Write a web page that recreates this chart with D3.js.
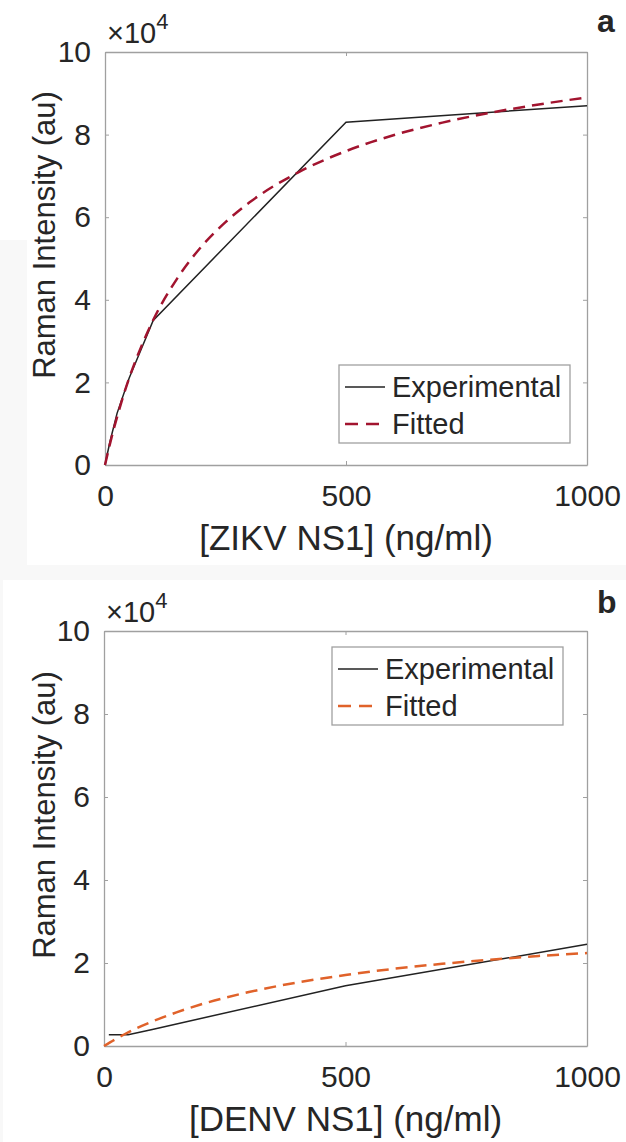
<!DOCTYPE html>
<html>
<head>
<meta charset="utf-8">
<script src="https://cdn.jsdelivr.net/npm/d3@7"></script>
<style>
  body { margin: 0; background: #f8f8f8; }
  svg { display: block; }
  text { font-family: "Liberation Sans", Arial, Helvetica, sans-serif; fill: #262626; }
</style>
</head>
<body>
<script>
// panel a: ZIKV NS1
var concA = [0, 10, 25, 50, 100, 500, 1000];
var expA = [0, 5500, 12500, 21000, 35000, 83000, 87000];
var fitXA = [0, 10, 25, 50, 75, 100, 150, 200, 250, 300, 400, 500, 600, 700, 800, 900, 1000];
var fitA = [0, 5000, 11600, 21000, 28600, 35100, 45200, 52900, 58800, 63600, 70800, 76000, 79900, 82900, 85300, 87300, 89000];

// panel b: DENV NS1
var concB = [10, 50, 100, 500, 1000];
var expB = [2700, 2700, 4000, 14500, 24500];
var fitXB = [0, 25, 50, 100, 150, 200, 300, 400, 500, 600, 700, 800, 900, 1000];
var fitB = [0, 1700, 3300, 5900, 8100, 10000, 13000, 15300, 17100, 18600, 19800, 20800, 21700, 22400];

var xTicks = [0, 500, 1000];
var yTicks = [0, 20000, 40000, 60000, 80000, 100000];
var seriesNames = ["Experimental", "Fitted"];

var W = 626, H = 1142;
var svg = d3.select("body").append("svg")
    .attr("width", W)
    .attr("height", H);

// faint grey page with white panel cut-outs
svg.append("rect").attr("x", 0).attr("y", 0).attr("width", W).attr("height", H).attr("fill", "#f8f8f8");
svg.append("rect").attr("x", 27).attr("y", 0).attr("width", W - 27).attr("height", 565).attr("fill", "#fff");
svg.append("rect").attr("x", 0).attr("y", 0).attr("width", 27).attr("height", 240).attr("fill", "#fff");
svg.append("rect").attr("x", 3).attr("y", 580).attr("width", W - 3).attr("height", H - 580).attr("fill", "#fff");

function drawPanel(p) {
    var x = d3.scaleLinear().domain([0, 1000]).range([p.left, p.right]);
    var y = d3.scaleLinear().domain([0, 100000]).range([p.bottom, p.top]);
    var g = svg.append("g");

    var fmtY = function(d) { return d / 10000; };

    // axes, ticks point inward
    var axB = g.append("g").attr("transform", "translate(0," + p.bottom + ")")
        .call(d3.axisBottom(x).tickValues(xTicks).tickFormat(d3.format("d")).tickSizeInner(-4).tickSizeOuter(0).tickPadding(20));
    var axT = g.append("g").attr("transform", "translate(0," + p.top + ")")
        .call(d3.axisTop(x).tickValues(xTicks).tickSizeInner(-4).tickSizeOuter(0).tickFormat(""));
    var axL = g.append("g").attr("transform", "translate(" + p.left + ",0)")
        .call(d3.axisLeft(y).tickValues(yTicks).tickFormat(fmtY).tickSizeInner(-4).tickSizeOuter(0).tickPadding(14));
    var axR = g.append("g").attr("transform", "translate(" + p.right + ",0)")
        .call(d3.axisRight(y).tickValues(yTicks).tickSizeInner(-4).tickSizeOuter(0).tickFormat(""));

    [axB, axT, axL, axR].forEach(function(a) {
        a.select(".domain").attr("stroke", "#a0a0a0").attr("stroke-width", 1.3);
        a.selectAll(".tick line").attr("stroke", "#a0a0a0");
        a.selectAll(".tick text").style("font-size", "30px").attr("fill", "#262626");
    });

    // exponent label
    var ex = g.append("text").attr("x", p.left + 2).attr("y", p.top - 9).style("font-size", "29px");
    ex.append("tspan").text("\u00d710");
    ex.append("tspan").attr("dy", -14).style("font-size", "22px").text("4");

    // data lines
    var line = d3.line()
        .x(function(d) { return x(d[0]); })
        .y(function(d) { return y(d[1]); });
    var curve = d3.line()
        .curve(d3.curveMonotoneX)
        .x(function(d) { return x(d[0]); })
        .y(function(d) { return y(d[1]); });

    g.append("path")
        .datum(d3.zip(p.expX, p.expY))
        .attr("d", line)
        .attr("fill", "none")
        .attr("stroke", "#222")
        .attr("stroke-width", 1.5);

    g.append("path")
        .datum(d3.zip(p.fitX, p.fitY))
        .attr("d", curve)
        .attr("fill", "none")
        .attr("stroke", p.fitColor)
        .attr("stroke-width", 2.5)
        .attr("stroke-dasharray", "12,7");

    // axis titles
    g.append("text")
        .attr("x", (p.left + p.right) / 2)
        .attr("y", p.bottom + 85)
        .attr("text-anchor", "middle")
        .style("font-size", "35px")
        .text(p.xLabel);

    g.append("text")
        .attr("transform", "translate(55," + p.yLabelMid + ") rotate(-90)")
        .attr("text-anchor", "middle")
        .style("font-size", "31px")
        .text("Raman Intensity (au)");

    // panel letter
    g.append("text")
        .attr("x", 597)
        .attr("y", p.letterY)
        .style("font-size", "32px")
        .style("font-weight", "bold")
        .attr("fill", "#000")
        .text(p.letter);

    // legend
    var lg = g.append("g").attr("transform", "translate(" + p.legX + "," + p.legY + ")");
    lg.append("rect")
        .attr("width", 231).attr("height", 78)
        .attr("fill", "#fff").attr("stroke", "#a0a0a0").attr("stroke-width", 1.3);
    var styles = [{c: "#222", w: 1.5, dash: null}, {c: p.fitColor, w: 2.5, dash: "13,8"}];
    seriesNames.forEach(function(name, i) {
        var yy = 22 + i * 37;
        lg.append("line")
            .attr("x1", 6).attr("x2", 46).attr("y1", yy).attr("y2", yy)
            .attr("stroke", styles[i].c)
            .attr("stroke-width", styles[i].w)
            .attr("stroke-dasharray", styles[i].dash);
        lg.append("text")
            .attr("x", 53).attr("y", yy + 10)
            .style("font-size", "29px")
            .text(name);
    });
}

drawPanel({
    left: 105, right: 587, top: 52, bottom: 465,
    expX: concA, expY: expA, fitX: fitXA, fitY: fitA,
    fitColor: "#a2142f",
    xLabel: "[ZIKV NS1] (ng/ml)",
    yLabelMid: 235,
    letter: "a", letterY: 32,
    legX: 339, legY: 365
});

drawPanel({
    left: 104, right: 587, top: 631, bottom: 1046,
    expX: concB, expY: expB, fitX: fitXB, fitY: fitB,
    fitColor: "#e0622a",
    xLabel: "[DENV NS1] (ng/ml)",
    yLabelMid: 815,
    letter: "b", letterY: 613,
    legX: 332, legY: 647
});
</script>
</body>
</html>
